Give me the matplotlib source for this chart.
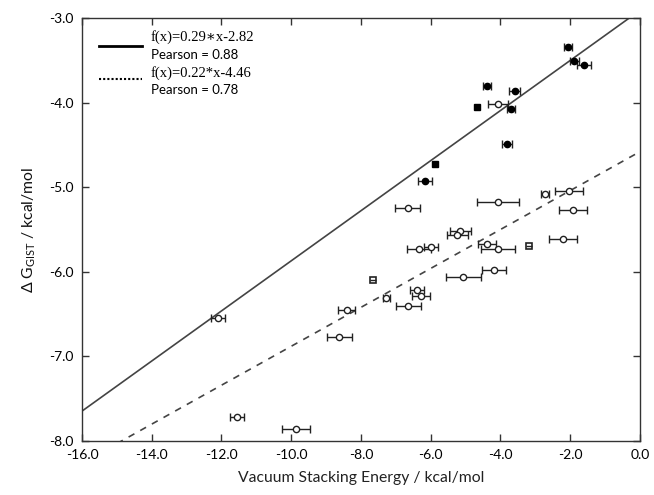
import matplotlib
matplotlib.use('Agg')
import matplotlib.pyplot as plt
import numpy as np

plt.rcParams['font.family'] = ['Lato', 'DejaVu Sans']
plt.rcParams['mathtext.fontset'] = 'custom'
plt.rcParams['mathtext.rm'] = 'Lato'
plt.rcParams['mathtext.sf'] = 'Lato'

# filled points (fit 1)
x_fill = [-2.06, -1.88, -1.61, -4.38, -3.59, -3.69, -3.81, -6.16]
y_fill = [-3.34, -3.51, -3.56, -3.80, -3.86, -4.07, -4.49, -4.93]
xerr_fill = [0.12, 0.12, 0.2, 0.12, 0.15, 0.12, 0.15, 0.2]
# filled points drawn as squares
x_fill_sq = [-4.68, -5.89]
y_fill_sq = [-4.05, -4.73]

# open points (fit 2)
x_open = [-4.07, -2.72, -2.03, -6.66, -4.07, -1.93, -5.15, -5.24, -2.20, -4.38,
          -4.07, -6.33, -5.99, -4.19, -5.07, -6.40, -6.28, -7.28,
          -6.64, -8.41, -12.11, -8.62, -11.55, -9.87]
y_open = [-4.02, -5.08, -5.04, -5.25, -5.18, -5.27, -5.52, -5.57, -5.61, -5.67,
          -5.73, -5.73, -5.71, -5.98, -6.06, -6.22, -6.29, -6.31,
          -6.40, -6.45, -6.55, -6.77, -7.71, -7.86]
xerr_open = [0.3, 0.12, 0.4, 0.35, 0.6, 0.4, 0.3, 0.3, 0.4, 0.25,
             0.5, 0.35, 0.2, 0.35, 0.5, 0.2, 0.25, 0.1,
             0.35, 0.25, 0.2, 0.35, 0.2, 0.4]
# open points drawn as squares
x_open_sq = [-3.17, -7.64]
y_open_sq = [-5.69, -6.10]

# fitted lines as drawn
fit1 = (0.296, -2.91)
fit2 = (0.230, -4.58)
labels1 = ['f(x)=0.29\u2217x-2.82', 'Pearson = 0.88']
labels2 = ['f(x)=0.22*x-4.46', 'Pearson = 0.78']

fig = plt.figure(figsize=(6.54, 4.95), dpi=100)
ax = fig.add_axes([0.1254, 0.109, 0.853, 0.8546])

xs = np.array([-16.0, 0.0])
ax.plot(xs, fit1[0] * xs + fit1[1], color='#444444', lw=1.2, zorder=1)
ax.plot(xs, fit2[0] * xs + fit2[1], color='#444444', lw=1.2,
        ls=(0, (4, 4)), zorder=1)

eb = dict(color='black', ecolor='#222222', elinewidth=1, capsize=3,
          capthick=1, zorder=3)
ax.errorbar(x_fill, y_fill, xerr=xerr_fill, fmt='o', ms=4.5,
            mfc='black', mec='black', **eb)
ax.errorbar(x_open, y_open, xerr=xerr_open, fmt='o', ms=4.5,
            mfc='white', mec='#222222', mew=1, **eb)
ax.plot(x_fill_sq, y_fill_sq, 's', ms=4.5, mfc='black', mec='black', zorder=3)
ax.plot(x_open_sq, y_open_sq, 's', ms=4.5, mfc='white', mec='#222222', mew=1.2,
        zorder=3)
ax.plot(x_open_sq, y_open_sq, '_', ms=4.5, color='#222222', mew=1, zorder=4)

ax.set_xlim(-16, 0)
ax.set_ylim(-8, -3)
ax.set_xticks(np.arange(-16, 0.1, 2))
ax.set_yticks(np.arange(-8, -2.9, 1))
ax.xaxis.set_major_formatter(matplotlib.ticker.FormatStrFormatter('%.1f'))
ax.yaxis.set_major_formatter(matplotlib.ticker.FormatStrFormatter('%.1f'))
ax.tick_params(direction='in', length=5, width=1, top=True, right=True,
               labelsize=10, color='#333333', pad=6)
for s in ax.spines.values():
    s.set_color('#333333')
    s.set_linewidth(1)

ax.set_xlabel('Vacuum Stacking Energy / kcal/mol', fontsize=11.3, labelpad=7,
              color='#222222')
ax.set_ylabel(r'$\Delta$ G$_{\mathsf{GIST}}$ / kcal/mol', fontsize=11.3,
              labelpad=8, color='#111111')

# legend drawn by hand
ax.plot([0.031, 0.107], [0.9345, 0.9345], color='black', lw=2,
        transform=ax.transAxes, clip_on=False)
ax.plot([0.031, 0.107], [0.856, 0.856], color='black', lw=1.5,
        ls=(0, (1, 1)), transform=ax.transAxes, clip_on=False)
serif = ['Liberation Serif', 'DejaVu Serif']
ax.text(0.123, 0.954, labels1[0], transform=ax.transAxes, va='center',
        fontsize=10.5, family=serif)
ax.text(0.123, 0.9125, labels1[1], transform=ax.transAxes, va='center',
        fontsize=9.5)
ax.text(0.123, 0.8707, labels2[0], transform=ax.transAxes, va='center',
        fontsize=10.5, family=serif)
ax.text(0.123, 0.831, labels2[1], transform=ax.transAxes, va='center',
        fontsize=9.5)

fig.savefig('out.png', dpi=100)
